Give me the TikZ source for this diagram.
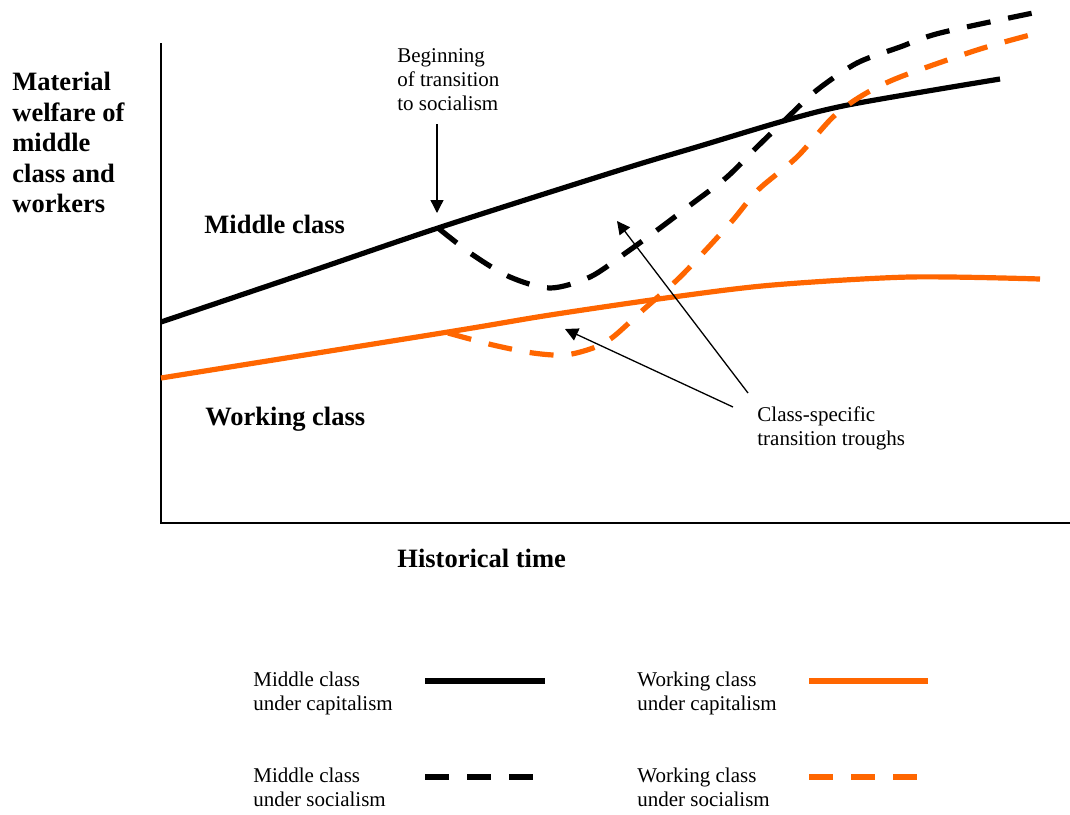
\documentclass[tikz,border=0pt]{standalone}
\usepackage{fontspec}
\setmainfont{Liberation Serif}
\usetikzlibrary{positioning, arrows.meta}
\definecolor{workorange}{HTML}{FF6600}
\tikzset{mclass/.style={line width=2.6pt, black}}
\tikzset{wclass/.style={line width=2.6pt, workorange}}
\tikzset{soc/.style={dash pattern=on 12pt off 9pt}}
\tikzset{pointer/.style={line width=0.65pt, -{Triangle[length=6.5pt,width=6.5pt]}}}
\tikzset{txt/.style={font=\fontsize{10.5}{12}\selectfont, align=left, inner sep=0pt, anchor=north west}}
\tikzset{btxt/.style={font=\fontsize{13.25}{15.25}\selectfont\bfseries, align=left, inner sep=0pt}}

\begin{document}
\begin{tikzpicture}[x=0.5pt, y=-0.5pt]
                \useasboundingbox (0,0) rectangle (1070,814);
                \draw[line width=1pt] (161,43) -- (161,523) -- (1070,523);

                \node[btxt, anchor=north west](ylabel) at (12,72) {Material\\welfare of\\middle\\class and\\workers};
                \node[btxt, anchor=base west](mid) at (204,233) {Middle class};
                \node[btxt, anchor=base west](work) at (205,425) {Working class};
                \node[btxt, anchor=base west](time) at (397,567) {Historical time};
                \node[txt](begin) at (397,48) {Beginning\\of transition\\to socialism};
                \node[txt](troughs) at (757,406) {Class-specific\\transition troughs};

                \draw[mclass] plot[smooth] coordinates {(161,322) (300,275) (438,228) (620,170) (700,146) (787,120) (853,104) (1000,79)};
                \draw[mclass, soc] plot[smooth] coordinates {(438,228) (473,255) (510,277) (550,288) (590,277) (627,252) (660,228) (693,203) (727,177) (757,147) (787,118) (817,90) (857,63) (900,47) (940,33) (1033,13)};
                \draw[wclass] plot[smooth] coordinates {(161,378) (448,332) (550,315) (673,297) (773,285) (910,277) (1040,279)};
                \draw[wclass, soc] plot[smooth] coordinates {(448,333) (493,345) (533,353) (565,355) (593,348) (613,337) (643,310) (677,280) (703,253) (733,220) (758,190) (797,157) (833,117) (863,95) (900,77) (977,50) (1030,35)};

                \coordinate (startTail) at (437,124);
                \coordinate (startTip) at (437,213);
                \coordinate (midTail) at (748,393);
                \coordinate (midTip) at (617,221);
                \coordinate (workTail) at (733,407);
                \coordinate (workTip) at (565,329);
                \draw[pointer] (startTail) -- (startTip);
                \draw[pointer] (midTail) -- (midTip);
                \draw[pointer] (workTail) -- (workTip);

                \node[txt](leg1) at (253,672) {Middle class\\under capitalism};
                \node[txt](leg2) at (637,672) {Working class\\under capitalism};
                \node[txt](leg3) at (253,768) {Middle class\\under socialism};
                \node[txt](leg4) at (637,768) {Working class\\under socialism};
                \draw[mclass] (425,681) -- (545,681);
                \draw[wclass] (809,681) -- (928,681);
                \draw[mclass, soc] (425,777) -- (533,777);
                \draw[wclass, soc] (809,777) -- (917,777);
\end{tikzpicture}
\end{document}
